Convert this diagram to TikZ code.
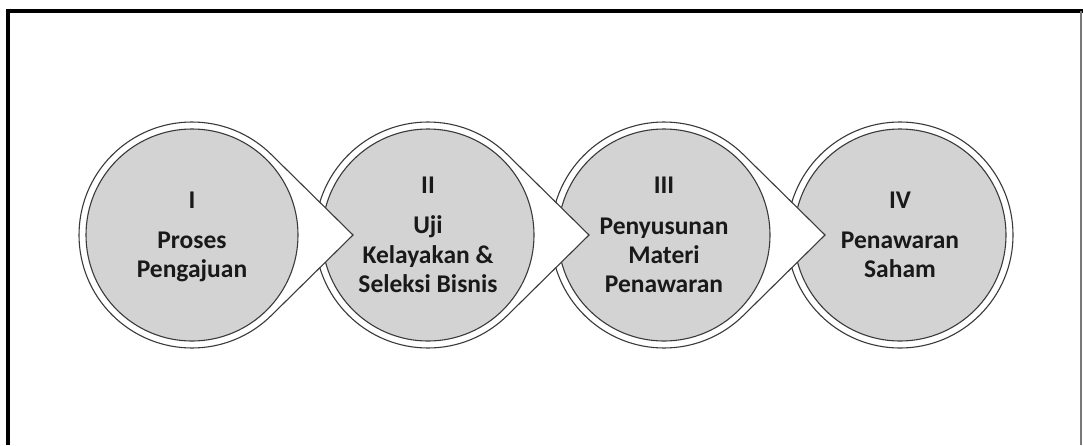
\documentclass[tikz,border=0pt]{standalone}
\usepackage{fontspec}
\setmainfont{Carlito}
\usetikzlibrary{calc}
\definecolor{ringline}{RGB}{58,58,58}
\definecolor{discfill}{RGB}{211,211,211}
\definecolor{inkc}{RGB}{25,25,25}
\definecolor{edgegray}{RGB}{120,120,120}
\tikzset{
  teardrop/.style={fill=white, draw=ringline, line width=1.1pt},
  disc/.style={circle, fill=discfill, draw=ringline, line width=1.1pt, minimum size=212pt, inner sep=0pt},
  lbl/.style={font=\fontsize{25.5}{30}\selectfont\bfseries, text=inkc, anchor=base, inner sep=0pt}
}
\begin{document}
\begin{tikzpicture}[x=1pt,y=-1pt]
\useasboundingbox (0,0) rectangle (1083,445);
\fill[white] (0,0) rectangle (1083,445);

% page frame: heavy left and top rules, light right rule
\draw[black, line width=4pt] (8,445) -- (8,11);
\draw[black, line width=3.5pt] (6,11) -- (1083,11);
\draw[edgegray, line width=2pt] (1080.5,11) -- (1080.5,445);

% last stage: plain ring
\filldraw[teardrop] (900,235) circle[radius=113pt];
\node[disc] (c4) at (900,235) {};

% earlier stages: ring with a pointer into the next stage (drawn back to front)
\foreach \n/\cx in {3/664, 2/428, 1/192}{
  \filldraw[teardrop] (\cx+161,235) -- ($(\cx,235)+(45.4:113pt)$)
     arc[start angle=45.4, end angle=314.6, radius=113pt] -- cycle;
  \node[disc] (c\n) at (\cx,235) {};
}

% stage I
\node[lbl] (t1a) at (192,208) {I};
\node[lbl] (t1b) at (192,248) {Proses};
\node[lbl] (t1c) at (192,277) {Pengajuan};
% stage II
\node[lbl] (t2a) at (428,193) {II};
\node[lbl] (t2b) at (428,233) {Uji};
\node[lbl] (t2c) at (428,263) {Kelayakan \&};
\node[lbl] (t2d) at (428,292) {Seleksi Bisnis};
% stage III
\node[lbl] (t3a) at (664,193) {III};
\node[lbl] (t3b) at (664,234) {Penyusunan};
\node[lbl] (t3c) at (664,263) {Materi};
\node[lbl] (t3d) at (664,292) {Penawaran};
% stage IV
\node[lbl] (t4a) at (900,208) {IV};
\node[lbl] (t4b) at (900,248) {Penawaran};
\node[lbl] (t4c) at (900,277) {Saham};
\end{tikzpicture}
\end{document}
